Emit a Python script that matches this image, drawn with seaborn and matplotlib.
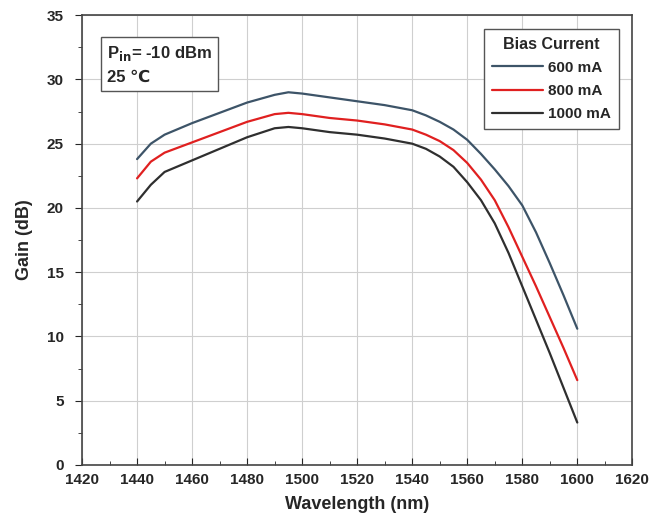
import matplotlib
matplotlib.use("Agg")
import matplotlib.pyplot as plt
import numpy as np
import pandas as pd
import seaborn as sns
from matplotlib.ticker import MultipleLocator

wavelength = [1440, 1445, 1450, 1460, 1470, 1480, 1490, 1495, 1500, 1510,
              1520, 1530, 1540, 1545, 1550, 1555, 1560, 1565, 1570, 1575,
              1580, 1585, 1590, 1595, 1600]
gain_600 = [23.8, 25.0, 25.7, 26.6, 27.4, 28.2, 28.8, 29.0, 28.9, 28.6,
            28.3, 28.0, 27.6, 27.2, 26.7, 26.1, 25.3, 24.2, 23.0, 21.7,
            20.2, 18.1, 15.7, 13.2, 10.6]
gain_800 = [22.3, 23.6, 24.3, 25.1, 25.9, 26.7, 27.3, 27.4, 27.3, 27.0,
            26.8, 26.5, 26.1, 25.7, 25.2, 24.5, 23.5, 22.2, 20.6, 18.5,
            16.2, 13.9, 11.5, 9.1, 6.6]
gain_1000 = [20.5, 21.8, 22.8, 23.7, 24.6, 25.5, 26.2, 26.3, 26.2, 25.9,
             25.7, 25.4, 25.0, 24.6, 24.0, 23.2, 22.0, 20.6, 18.8, 16.5,
             13.9, 11.3, 8.7, 6.0, 3.3]
currents = ["600 mA", "800 mA", "1000 mA"]
colors = ["#3d5468", "#e02020", "#2f2f2f"]

df = pd.DataFrame({
    "Wavelength": wavelength * 3,
    "Gain": gain_600 + gain_800 + gain_1000,
    "Current": np.repeat(currents, len(wavelength)),
})

sns.set_style("ticks")
plt.rcParams['font.family'] = ['Liberation Sans', 'DejaVu Sans']
plt.rcParams['font.weight'] = 'bold'

fig = plt.figure(figsize=(6.67, 5.23), dpi=100)
ax = fig.add_axes([0.123, 0.111, 0.825, 0.860])

sns.lineplot(data=df, x="Wavelength", y="Gain", hue="Current",
             hue_order=currents, palette=colors, linewidth=1.6, ax=ax)

ax.set_xlim(1420, 1620)
ax.set_ylim(0, 35)
ax.xaxis.set_major_locator(MultipleLocator(20))
ax.xaxis.set_minor_locator(MultipleLocator(10))
ax.yaxis.set_major_locator(MultipleLocator(5))
ax.yaxis.set_minor_locator(MultipleLocator(2.5))
ax.grid(True, which="major", color="#cfcfcf", linewidth=0.8)
ax.tick_params(axis="x", which="both", direction="in", labelsize=11, pad=6)
ax.tick_params(axis="y", which="both", direction="out", labelsize=11, pad=8)
ax.tick_params(which="major", length=5)
ax.tick_params(which="minor", length=3)
for s in ax.spines.values():
    s.set_color("#444444")
    s.set_linewidth(1.2)
for lab in ax.get_xticklabels() + ax.get_yticklabels():
    lab.set_fontweight("bold")

ax.set_xlabel("Wavelength (nm)", fontsize=13, fontweight="bold", labelpad=6)
ax.set_ylabel("Gain (dB)", fontsize=13, fontweight="bold", labelpad=10)

leg = ax.legend(title="Bias Current", loc="upper right", fontsize=11,
                title_fontproperties={"weight": "bold", "size": 11.5},
                handlelength=3.4, handletextpad=0.3, fancybox=False,
                edgecolor="#555555", framealpha=1, borderaxespad=0.9,
                labelspacing=0.6, borderpad=0.5)
for t in leg.get_texts():
    t.set_fontweight("bold")

ax.text(0.045, 0.935, "P$_{\\mathbf{in}}$= -10 dBm\n25 \u2103", transform=ax.transAxes,
        fontsize=12, fontweight="bold", va="top", ha="left", linespacing=1.55,
        bbox=dict(boxstyle="square,pad=0.35", facecolor="white", edgecolor="#555555"))

fig.savefig("out.png", dpi=100)
